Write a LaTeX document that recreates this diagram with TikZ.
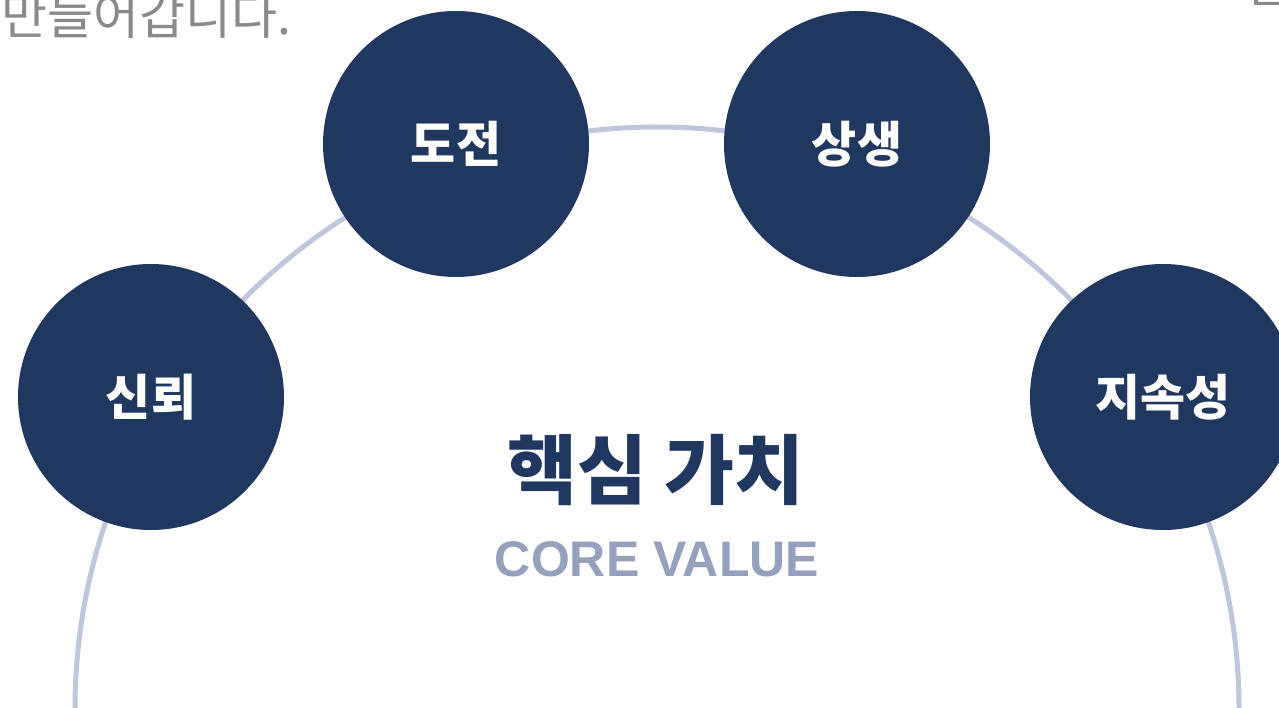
\documentclass[tikz,border=0pt]{standalone}
\usepackage{fontspec}
\newfontfamily\kr{Noto Sans CJK KR}
\newfontfamily\lat{Liberation Sans}
\definecolor{navy}{HTML}{203760}
\definecolor{arcc}{HTML}{C0C6DB}
\definecolor{subc}{HTML}{95A0BD}
\definecolor{greytxt}{HTML}{8A8A8A}
\tikzset{
  val/.style={circle, fill=navy, minimum size=266pt, inner sep=0pt, text=white, font=\kr\bfseries\fontsize{49}{54}\selectfont},
  arcline/.style={draw=arcc, line width=5pt},
}
\begin{document}
\begin{tikzpicture}[x=1pt,y=-1pt]
\useasboundingbox (0,0) rectangle (1279,708);
\clip (0,0) rectangle (1279,708);
\fill[white] (0,0) rectangle (1279,708);
\draw[arcline] (657,709) circle (582pt);
\node[anchor=base west, inner sep=0pt, text=greytxt, font=\kr\fontsize{50}{55}\selectfont] (top) at (1,35) {만들어갑니다.};
\fill[greytxt] (1254,0) rectangle (1258,5) (1254,2) rectangle (1279,5);
\node[val] (n1) at (151,397) {신뢰};
\node[val] (n2) at (456,144) {도전};
\node[val] (n3) at (857,144) {상생};
\node[val] (n4) at (1163,397) {지속성};
\node[text=navy, font=\kr\bfseries\fontsize{76}{82}\selectfont, inner sep=0pt] (title) at (656,470) {핵심 가치};
\node[text=subc, font=\lat\bfseries\fontsize{50}{56}\selectfont, inner sep=0pt] (sub) at (657,559) {CORE VALUE};
\end{tikzpicture}
\end{document}
